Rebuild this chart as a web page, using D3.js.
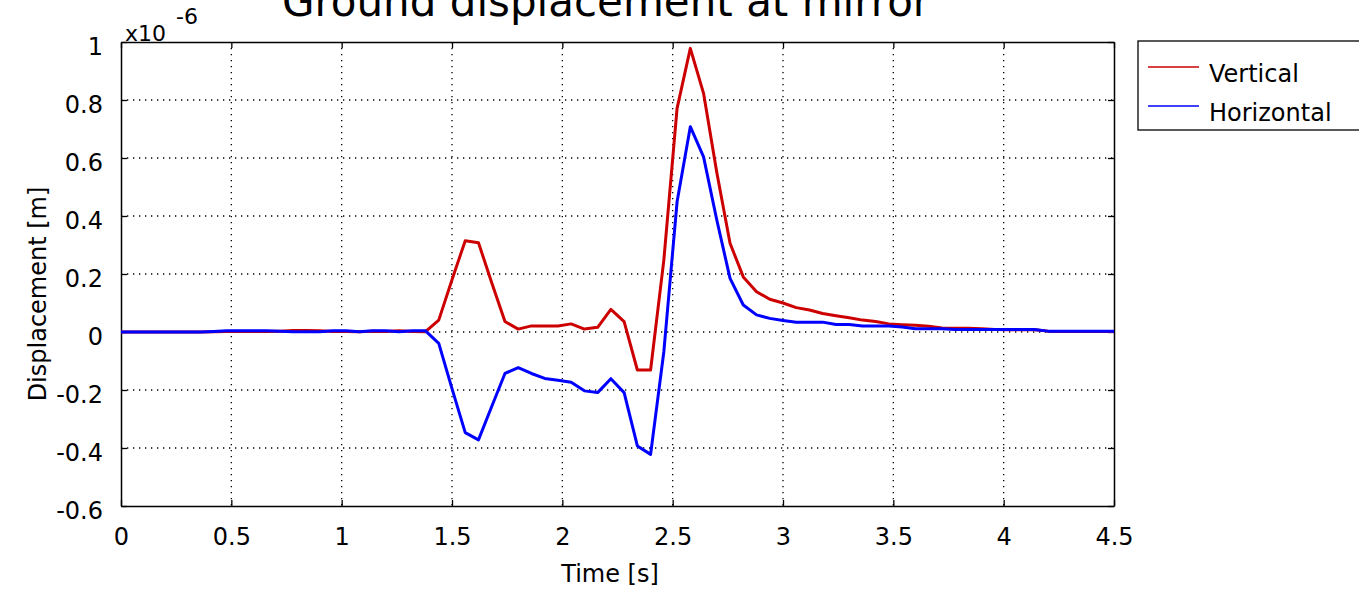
<!DOCTYPE html>
<html><head><meta charset="utf-8">
<script src="https://cdn.jsdelivr.net/npm/d3@7"></script>
<style>body{margin:0;background:#fff;}svg{display:block;}text{font-family:"DejaVu Sans",sans-serif;fill:#000;}</style>
</head><body>
<svg id="chart" width="1359" height="590"></svg>
<script>
const dt = 0.06;
const vertical = [0,0,0,0,0,0,0,0.001,0.002,0.002,0.002,0.002,0.003,0.005,0.005,0.004,0.002,0.002,0.001,0.003,0.002,0.004,0.002,0.001,
  0.041,0.18,0.315,0.308,0.17,0.036,0.01,0.021,0.021,0.021,0.028,0.01,0.016,0.078,0.036,-0.131,-0.131,0.248,0.771,0.978,0.823,0.55,0.306,0.19,0.139,0.113,
  0.10,0.084,0.076,0.064,0.056,0.049,0.041,0.036,0.028,0.025,0.023,0.02,0.014,0.013,0.013,0.011,0.009,0.008,0.008,0.008,0.003,0.002,0.002,0.002,0.002,0.002];
const horizontal = [0,0,0,0,0,0,0,0.002,0.004,0.004,0.004,0.004,0.003,0.001,0.001,0.001,0.004,0.004,0.001,0.004,0.004,0.001,0.004,0.004,
  -0.039,-0.195,-0.347,-0.372,-0.257,-0.143,-0.123,-0.143,-0.16,-0.166,-0.173,-0.203,-0.209,-0.161,-0.209,-0.393,-0.422,-0.068,0.449,0.708,0.604,0.386,0.185,0.093,0.059,0.047,
  0.04,0.034,0.034,0.034,0.026,0.026,0.021,0.021,0.021,0.017,0.011,0.011,0.011,0.009,0.009,0.009,0.009,0.009,0.009,0.009,0.003,0.003,0.003,0.003,0.003,0.003];
const xTicks = [0,0.5,1,1.5,2,2.5,3,3.5,4,4.5];
const xTickLabels = ["0","0.5","1","1.5","2","2.5","3","3.5","4","4.5"];
const yTicks = [-0.6,-0.4,-0.2,0,0.2,0.4,0.6,0.8,1];
const yTickLabels = ["-0.6","-0.4","-0.2","0","0.2","0.4","0.6","0.8","1"];
const seriesNames = ["Vertical","Horizontal"];
const seriesColors = ["#cc0000","#0000ff"];

const svg = d3.select("#chart");
const L = 121, R = 1114, T = 42, B = 506;
const x = d3.scaleLinear().domain([0,4.5]).range([L,R]);
const y = d3.scaleLinear().domain([-0.6,1]).range([B,T]);

// grid
const g = svg.append("g");
g.selectAll(".gx").data(xTicks.slice(1,-1)).enter().append("line")
  .attr("x1",d=>x(d)).attr("x2",d=>x(d)).attr("y1",T).attr("y2",B)
  .attr("stroke","#000").attr("stroke-width",1.3).attr("stroke-dasharray","1.3,4.7");
g.selectAll(".gy").data(yTicks.slice(1,-1)).enter().append("line")
  .attr("y1",d=>y(d)).attr("y2",d=>y(d)).attr("x1",L).attr("x2",R)
  .attr("stroke","#000").attr("stroke-width",1.3).attr("stroke-dasharray","1.3,4.7");

// axes
const axB = d3.axisBottom(x).tickValues(xTicks).tickFormat((d,i)=>xTickLabels[i]).tickSizeInner(-6).tickSizeOuter(0);
const axL = d3.axisLeft(y).tickValues(yTicks).tickFormat((d,i)=>yTickLabels[i]).tickSizeInner(-6).tickSizeOuter(0);
const axT = d3.axisTop(x).tickValues(xTicks).tickFormat("").tickSizeInner(-6).tickSizeOuter(0);
const axR = d3.axisRight(y).tickValues(yTicks).tickFormat("").tickSizeInner(-6).tickSizeOuter(0);
function style(sel){
  sel.select(".domain").attr("stroke","#000").attr("stroke-width",1.5);
  sel.selectAll(".tick line").attr("stroke","#000").attr("stroke-width",1.3);
  sel.selectAll(".tick text").attr("font-size",24).attr("font-family","DejaVu Sans").attr("fill","#000");
}
svg.append("g").attr("transform",`translate(0,${B})`).call(axB).call(style)
  .selectAll(".tick text").attr("dy",null).attr("y",39);
svg.append("g").attr("transform",`translate(${L},0)`).call(axL).call(style)
  .selectAll(".tick text").attr("dy",null).attr("x",-18).attr("y",12);
svg.append("g").attr("transform",`translate(0,${T})`).call(axT).call(style);
svg.append("g").attr("transform",`translate(${R},0)`).call(axR).call(style);

// lines
const series = [vertical, horizontal];
const line = d3.line().x((d,i)=>x(i*dt)).y(d=>y(d));
series.forEach((s,k)=>{
  svg.append("path").datum(s).attr("d",line).attr("fill","none")
    .attr("stroke",seriesColors[k]).attr("stroke-width",3).attr("stroke-linejoin","round");
});

// title
svg.append("text").attr("x",606).attr("y",16).attr("text-anchor","middle")
  .attr("font-size",42).text("Ground displacement at mirror");
// exponent
svg.append("text").attr("x",125).attr("y",41).attr("font-size",22).text("x10");
svg.append("text").attr("x",176).attr("y",24).attr("font-size",22).text("-6");
// axis labels
svg.append("text").attr("x",610).attr("y",582).attr("text-anchor","middle").attr("font-size",24).text("Time [s]");
svg.append("text").attr("transform","translate(46,294) rotate(-90)").attr("text-anchor","middle").attr("font-size",24).text("Displacement [m]");

// legend
const lg = svg.append("g");
lg.append("rect").attr("x",1138).attr("y",41).attr("width",240).attr("height",89)
  .attr("fill","#fff").attr("stroke","#000").attr("stroke-width",1.3);
seriesNames.forEach((n,k)=>{
  const yy = 67 + k*39;
  lg.append("line").attr("x1",1148).attr("x2",1199).attr("y1",yy).attr("y2",yy)
    .attr("stroke",seriesColors[k]).attr("stroke-width",1.5);
  lg.append("text").attr("x",1209).attr("y",yy+15).attr("font-size",24).text(n);
});
</script>
</body></html>
